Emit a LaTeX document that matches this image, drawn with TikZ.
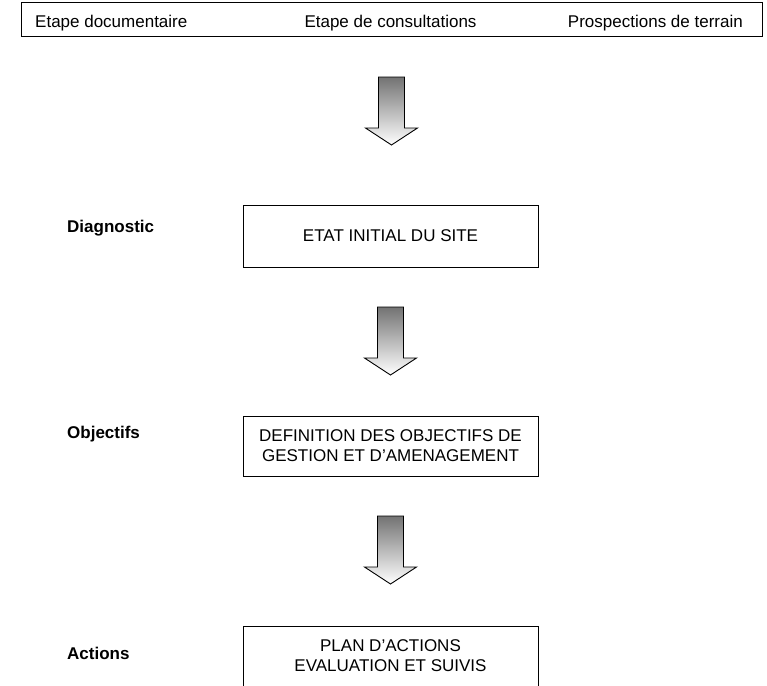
\documentclass[tikz,border=0pt]{standalone}
\usepackage{fontspec}
\setmainfont{Liberation Sans}
\usetikzlibrary{math}

\tikzset{
  boite/.style={draw=black, line width=1pt, outer sep=0pt, inner sep=0pt, minimum width=295pt, minimum height=60pt, align=center, font=\fontsize{17}{20}\selectfont},
  etiq/.style={inner sep=0pt, anchor=base west, font=\fontsize{17}{20}\selectfont\bfseries},
  texte/.style={inner sep=0pt, font=\fontsize{17}{20}\selectfont}
}
\newcommand{\fleche}[1]{\shade[draw=black, line width=0.9pt, top color=black!55, bottom color=white, shift={(#1.south)}] (-13,40) -- (13,40) -- (13,91) -- (26,91) -- (0,108) -- (-26,91) -- (-13,91) -- cycle;}

\begin{document}
\begin{tikzpicture}[x=1pt, y=-1pt]
      \tikzmath{\cx = 390.5; \lx = 67;}
      \path[use as bounding box, clip] (0,0) rectangle (767,685);
      \node[boite, minimum width=741pt, minimum height=34pt] (etapes) at (391.5,20) {};
      \node[texte, anchor=base west] (doc) at (35,28) {Etape documentaire};
      \node[texte, anchor=base] (consult) at (\cx,28) {Etape de consultations};
      \node[texte, anchor=base east] (prosp) at (743,28) {Prospections de terrain};
      \node[boite, minimum height=62pt] (etat) at (\cx,236) {ETAT INITIAL DU SITE};
      \node[boite] (defin) at (\cx,446) {DEFINITION DES OBJECTIFS DE\\GESTION ET D'AMENAGEMENT};
      \node[boite] (plan) at (\cx,656) {PLAN D'ACTIONS\\EVALUATION ET SUIVIS};
      \node[etiq] (diag) at (\lx,232) {Diagnostic};
      \node[etiq] (obj) at (\lx,438) {Objectifs};
      \node[etiq] (act) at (\lx,659) {Actions};
      \fleche{etapes}
      \fleche{etat}
      \fleche{defin}
\end{tikzpicture}
\end{document}
